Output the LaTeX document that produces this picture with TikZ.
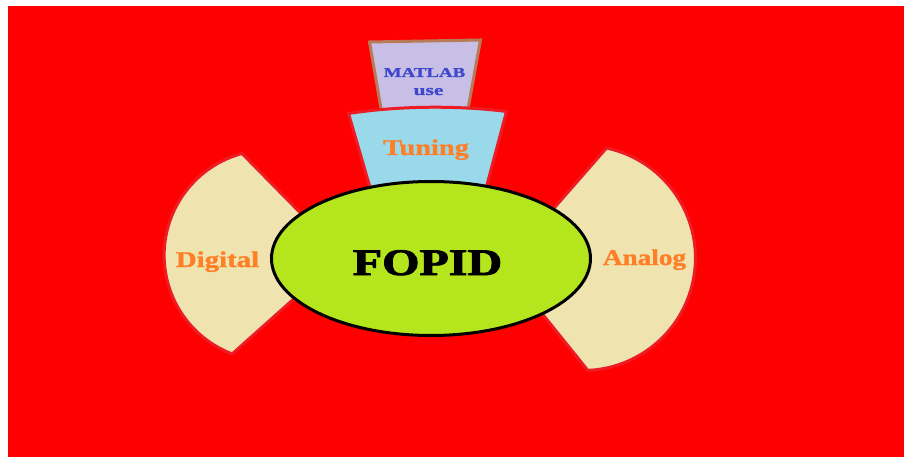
\documentclass[tikz,border=0pt]{standalone}
\usepackage{fontspec}
\usetikzlibrary{shapes.geometric}
\setmainfont{Liberation Serif}
\newfontfamily\heavyfont[BoldFeatures={FakeBold=2}]{Liberation Serif}
\newfontfamily\midfont[BoldFeatures={FakeBold=1.2}]{Liberation Serif}
\definecolor{bgred}{HTML}{FF0000}
\definecolor{edgered}{HTML}{ED1C24}
\definecolor{tunefill}{HTML}{99D9EA}
\definecolor{sidefill}{HTML}{EFE4B0}
\definecolor{matfill}{HTML}{C8BFE7}
\definecolor{matedge}{HTML}{B97A57}
\definecolor{lime}{HTML}{B5E61D}
\definecolor{orangetxt}{HTML}{FF7F27}
\definecolor{bluetxt}{HTML}{3F48CC}
\tikzset{
  sector/.style={draw=edgered, line width=3pt},
  lbl/.style={inner sep=0pt, anchor=base},
}
\begin{document}
\begin{tikzpicture}[x=1pt,y=1pt]
\useasboundingbox (0,0) rectangle (904,-457);
\fill[white] (0,0) rectangle (904,-457);
\fill[bgred] (8,-6) rectangle (904,-457);
% MATLAB box
\path[draw=matedge, line width=3pt, fill=matfill]
  (369.5,-42) -- (480.5,-40) -- (466,-120) -- (383,-120) -- cycle;
% Tuning sector
\path[sector, fill=tunefill]
  (348.5,-113.5) .. controls (400,-105.5) and (460,-105.5) .. (506.5,-111.5)
  -- (479,-215) -- (378,-215) -- cycle;
% Digital sector
\path[sector, fill=sidefill]
  (330,-243) -- (242,-153.5) arc[start angle=105.2, end angle=249.2, radius=105.5]
  -- (325,-271) -- cycle;
% Analog sector
\path[sector, fill=sidefill]
  (520,-247) -- (606.5,-148) arc[start angle=77.9, end angle=-87.5, radius=112.5]
  -- (519,-285) -- cycle;
% FOPID ellipse
\node[draw=black, line width=3pt, fill=lime, ellipse, inner sep=0pt,
      minimum width=319pt, minimum height=154pt] (core) at (431,-258.5) {};
% labels
\node[lbl, text=black, font=\heavyfont\bfseries\fontsize{37.5}{40}\selectfont] (fopid) at (427.5,-275) {\scalebox{1.28}[1]{FOPID}};
\node[lbl, text=orangetxt, font=\midfont\bfseries\fontsize{22.5}{24}\selectfont] (tuning) at (426,-155) {\scalebox{1.26}[1]{Tuning}};
\node[lbl, text=orangetxt, font=\midfont\bfseries\fontsize{22.5}{24}\selectfont] (digital) at (217.5,-267) {\scalebox{1.28}[1]{Digital}};
\node[lbl, text=orangetxt, font=\midfont\bfseries\fontsize{22.5}{24}\selectfont] (analog) at (644.5,-265) {\scalebox{1.21}[1]{Analog}};
\node[lbl, text=bluetxt, font=\midfont\bfseries\fontsize{13.6}{15}\selectfont] (matlab) at (424.5,-77) {\scalebox{1.39}[1]{MATLAB}};
\node[lbl, text=bluetxt, font=\midfont\bfseries\fontsize{15}{16}\selectfont] (use) at (428.5,-95) {\scalebox{1.43}[1]{use}};
\end{tikzpicture}
\end{document}
